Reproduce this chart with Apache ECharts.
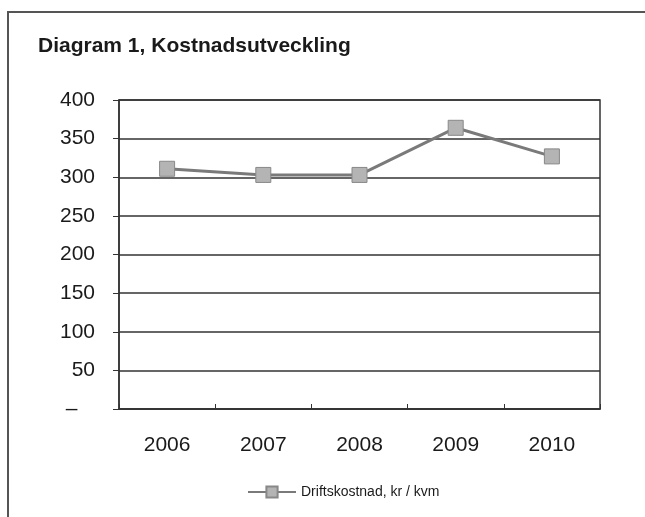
<!DOCTYPE html>
<html>
<head>
<meta charset="utf-8">
<script src="https://cdn.jsdelivr.net/npm/echarts@6/dist/echarts.min.js"></script>
<style>
html,body{margin:0;padding:0;background:#fff;}
#c{width:645px;height:517px;}
</style>
</head>
<body>
<div id="c"></div>
<script>
var categories = ['2006', '2007', '2008', '2009', '2010'];
var values = [311, 303, 303, 364, 327];
var seriesName = 'Driftskostnad, kr / kvm';
var titleText = 'Diagram 1, Kostnadsutveckling';

var chart = echarts.init(document.getElementById('c'), null, {renderer: 'canvas'});
chart.setOption({
  animation: false,
  backgroundColor: '#fff',
  graphic: [{
    type: 'rect',
    shape: {x: 8, y: 12, width: 700, height: 600},
    style: {fill: 'none', stroke: '#555', lineWidth: 2}
  }],
  title: {
    text: titleText,
    left: 33, top: 31,
    textStyle: {fontFamily: 'Liberation Sans', fontWeight: 'bold', fontSize: 21, color: '#1a1a1a'}
  },
  grid: {left: 119, right: 45, top: 100, bottom: 108, show: true, borderColor: '#333', borderWidth: 1.5, backgroundColor: 'transparent'},
  xAxis: {
    type: 'category',
    data: categories,
    boundaryGap: true,
    axisLine: {lineStyle: {color: '#333', width: 1.5}},
    axisTick: {show: true, inside: true, length: 5, lineStyle: {color: '#333'}},
    axisLabel: {margin: 26, fontFamily: 'Liberation Sans', fontSize: 21, color: '#1a1a1a'}
  },
  yAxis: {
    type: 'value',
    min: 0, max: 400, interval: 50,
    axisLine: {show: true, lineStyle: {color: '#333', width: 1.5}},
    axisTick: {show: true, length: 6, lineStyle: {color: '#333'}},
    splitLine: {lineStyle: {color: '#333', width: 1.5}},
    axisLabel: {
      margin: 24, fontFamily: 'Liberation Sans', fontSize: 21, color: '#1a1a1a',
      formatter: function (v) { return v === 0 ? '–   ' : String(v); }
    }
  },
  legend: {
    data: [seriesName],
    top: 480, left: 242,
    itemWidth: 48, itemHeight: 14, itemGap: 4,
    textStyle: {fontFamily: 'Liberation Sans', fontSize: 14, color: '#1a1a1a'}
  },
  series: [{
    name: seriesName,
    type: 'line',
    data: values,
    symbol: 'rect',
    symbolSize: 15,
    lineStyle: {color: '#7a7a7a', width: 3},
    itemStyle: {color: '#b4b4b4', borderColor: '#888', borderWidth: 1}
  }]
});
</script>
</body>
</html>
